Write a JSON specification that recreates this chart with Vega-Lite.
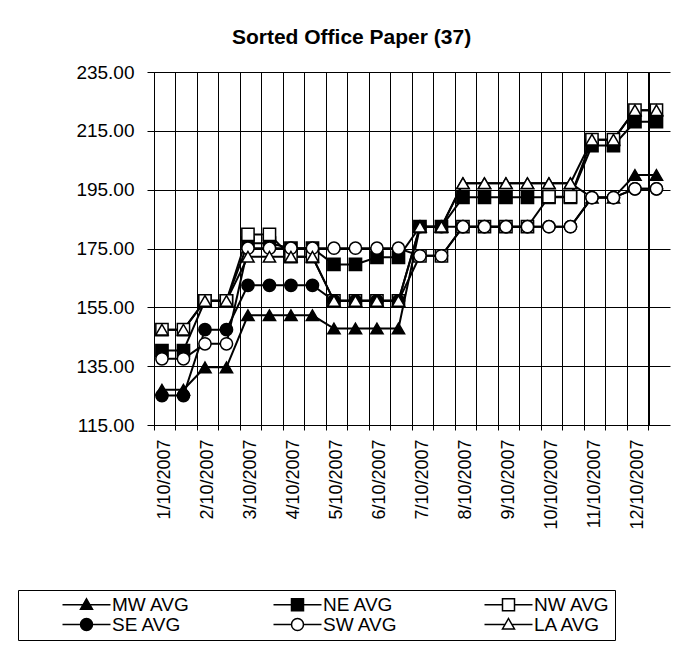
{
  "$schema": "https://vega.github.io/schema/vega-lite/v6.json",
  "width": 495,
  "height": 353,
  "autosize": "none",
  "padding": {"left": 154, "top": 72, "right": 49, "bottom": 241},
  "background": "white",
  "title": {"text": "Sorted Office Paper (37)", "fontSize": 21, "font": "Liberation Sans", "fontWeight": "bold", "color": "black", "anchor": "middle", "frame": "group", "dx": -50, "offset": 15},
  "config": {
    "font": "Liberation Sans",
    "view": {"stroke": "black", "strokeWidth": 1},
    "axis": {"labelColor": "black", "labelFont": "Liberation Sans", "labelFontSize": 18, "gridColor": "black", "gridOpacity": 1, "gridWidth": 1, "tickColor": "black", "domainColor": "black"}
  },
  "data": {"values": [
    {"d":"2007-01-10","s":"MW AVG","v":127.0},{"d":"2007-01-10","s":"NE AVG","v":140.3},{"d":"2007-01-10","s":"NW AVG","v":147.4},{"d":"2007-01-10","s":"SE AVG","v":125.0},{"d":"2007-01-10","s":"SW AVG","v":137.5},{"d":"2007-01-10","s":"LA AVG","v":147.4},
    {"d":"2007-01-25","s":"MW AVG","v":127.0},{"d":"2007-01-25","s":"NE AVG","v":140.3},{"d":"2007-01-25","s":"NW AVG","v":147.4},{"d":"2007-01-25","s":"SE AVG","v":125.0},{"d":"2007-01-25","s":"SW AVG","v":137.5},{"d":"2007-01-25","s":"LA AVG","v":147.4},
    {"d":"2007-02-10","s":"MW AVG","v":134.6},{"d":"2007-02-10","s":"NE AVG","v":157.2},{"d":"2007-02-10","s":"NW AVG","v":157.2},{"d":"2007-02-10","s":"SE AVG","v":147.4},{"d":"2007-02-10","s":"SW AVG","v":142.6},{"d":"2007-02-10","s":"LA AVG","v":157.2},
    {"d":"2007-02-25","s":"MW AVG","v":134.6},{"d":"2007-02-25","s":"NE AVG","v":157.2},{"d":"2007-02-25","s":"NW AVG","v":157.2},{"d":"2007-02-25","s":"SE AVG","v":147.4},{"d":"2007-02-25","s":"SW AVG","v":142.6},{"d":"2007-02-25","s":"LA AVG","v":157.2},
    {"d":"2007-03-10","s":"MW AVG","v":152.3},{"d":"2007-03-10","s":"NE AVG","v":176.8},{"d":"2007-03-10","s":"NW AVG","v":179.8},{"d":"2007-03-10","s":"SE AVG","v":162.5},{"d":"2007-03-10","s":"SW AVG","v":175.1},{"d":"2007-03-10","s":"LA AVG","v":172.2},
    {"d":"2007-03-25","s":"MW AVG","v":152.3},{"d":"2007-03-25","s":"NE AVG","v":176.8},{"d":"2007-03-25","s":"NW AVG","v":179.8},{"d":"2007-03-25","s":"SE AVG","v":162.5},{"d":"2007-03-25","s":"SW AVG","v":175.1},{"d":"2007-03-25","s":"LA AVG","v":172.2},
    {"d":"2007-04-10","s":"MW AVG","v":152.3},{"d":"2007-04-10","s":"NE AVG","v":175.1},{"d":"2007-04-10","s":"NW AVG","v":172.2},{"d":"2007-04-10","s":"SE AVG","v":162.5},{"d":"2007-04-10","s":"SW AVG","v":175.1},{"d":"2007-04-10","s":"LA AVG","v":172.2},
    {"d":"2007-04-25","s":"MW AVG","v":152.3},{"d":"2007-04-25","s":"NE AVG","v":175.1},{"d":"2007-04-25","s":"NW AVG","v":172.2},{"d":"2007-04-25","s":"SE AVG","v":162.5},{"d":"2007-04-25","s":"SW AVG","v":175.1},{"d":"2007-04-25","s":"LA AVG","v":172.2},
    {"d":"2007-05-10","s":"MW AVG","v":147.8},{"d":"2007-05-10","s":"NE AVG","v":169.6},{"d":"2007-05-10","s":"NW AVG","v":157.2},{"d":"2007-05-10","s":"SE AVG","v":157.2},{"d":"2007-05-10","s":"SW AVG","v":175.1},{"d":"2007-05-10","s":"LA AVG","v":157.2},
    {"d":"2007-05-25","s":"MW AVG","v":147.8},{"d":"2007-05-25","s":"NE AVG","v":169.6},{"d":"2007-05-25","s":"NW AVG","v":157.2},{"d":"2007-05-25","s":"SE AVG","v":157.2},{"d":"2007-05-25","s":"SW AVG","v":175.1},{"d":"2007-05-25","s":"LA AVG","v":157.2},
    {"d":"2007-06-10","s":"MW AVG","v":147.8},{"d":"2007-06-10","s":"NE AVG","v":172.0},{"d":"2007-06-10","s":"NW AVG","v":157.2},{"d":"2007-06-10","s":"SE AVG","v":157.2},{"d":"2007-06-10","s":"SW AVG","v":175.1},{"d":"2007-06-10","s":"LA AVG","v":157.2},
    {"d":"2007-06-25","s":"MW AVG","v":147.8},{"d":"2007-06-25","s":"NE AVG","v":172.0},{"d":"2007-06-25","s":"NW AVG","v":157.2},{"d":"2007-06-25","s":"SE AVG","v":157.2},{"d":"2007-06-25","s":"SW AVG","v":175.1},{"d":"2007-06-25","s":"LA AVG","v":157.2},
    {"d":"2007-07-10","s":"MW AVG","v":182.4},{"d":"2007-07-10","s":"NE AVG","v":182.4},{"d":"2007-07-10","s":"NW AVG","v":172.5},{"d":"2007-07-10","s":"SE AVG","v":182.4},{"d":"2007-07-10","s":"SW AVG","v":172.5},{"d":"2007-07-10","s":"LA AVG","v":182.4},
    {"d":"2007-07-25","s":"MW AVG","v":182.4},{"d":"2007-07-25","s":"NE AVG","v":182.4},{"d":"2007-07-25","s":"NW AVG","v":172.5},{"d":"2007-07-25","s":"SE AVG","v":182.4},{"d":"2007-07-25","s":"SW AVG","v":172.5},{"d":"2007-07-25","s":"LA AVG","v":182.4},
    {"d":"2007-08-10","s":"MW AVG","v":197.2},{"d":"2007-08-10","s":"NE AVG","v":192.4},{"d":"2007-08-10","s":"NW AVG","v":182.4},{"d":"2007-08-10","s":"SE AVG","v":182.4},{"d":"2007-08-10","s":"SW AVG","v":182.4},{"d":"2007-08-10","s":"LA AVG","v":197.2},
    {"d":"2007-08-25","s":"MW AVG","v":197.2},{"d":"2007-08-25","s":"NE AVG","v":192.4},{"d":"2007-08-25","s":"NW AVG","v":182.4},{"d":"2007-08-25","s":"SE AVG","v":182.4},{"d":"2007-08-25","s":"SW AVG","v":182.4},{"d":"2007-08-25","s":"LA AVG","v":197.2},
    {"d":"2007-09-10","s":"MW AVG","v":197.2},{"d":"2007-09-10","s":"NE AVG","v":192.4},{"d":"2007-09-10","s":"NW AVG","v":182.4},{"d":"2007-09-10","s":"SE AVG","v":182.4},{"d":"2007-09-10","s":"SW AVG","v":182.4},{"d":"2007-09-10","s":"LA AVG","v":197.2},
    {"d":"2007-09-25","s":"MW AVG","v":197.2},{"d":"2007-09-25","s":"NE AVG","v":192.4},{"d":"2007-09-25","s":"NW AVG","v":182.4},{"d":"2007-09-25","s":"SE AVG","v":182.4},{"d":"2007-09-25","s":"SW AVG","v":182.4},{"d":"2007-09-25","s":"LA AVG","v":197.2},
    {"d":"2007-10-10","s":"MW AVG","v":197.2},{"d":"2007-10-10","s":"NE AVG","v":192.4},{"d":"2007-10-10","s":"NW AVG","v":192.6},{"d":"2007-10-10","s":"SE AVG","v":182.4},{"d":"2007-10-10","s":"SW AVG","v":182.4},{"d":"2007-10-10","s":"LA AVG","v":197.2},
    {"d":"2007-10-25","s":"MW AVG","v":197.2},{"d":"2007-10-25","s":"NE AVG","v":192.4},{"d":"2007-10-25","s":"NW AVG","v":192.6},{"d":"2007-10-25","s":"SE AVG","v":182.4},{"d":"2007-10-25","s":"SW AVG","v":182.4},{"d":"2007-10-25","s":"LA AVG","v":197.2},
    {"d":"2007-11-10","s":"MW AVG","v":192.3},{"d":"2007-11-10","s":"NE AVG","v":210.0},{"d":"2007-11-10","s":"NW AVG","v":212.0},{"d":"2007-11-10","s":"SE AVG","v":192.3},{"d":"2007-11-10","s":"SW AVG","v":192.3},{"d":"2007-11-10","s":"LA AVG","v":212.0},
    {"d":"2007-11-25","s":"MW AVG","v":192.3},{"d":"2007-11-25","s":"NE AVG","v":210.0},{"d":"2007-11-25","s":"NW AVG","v":212.0},{"d":"2007-11-25","s":"SE AVG","v":192.3},{"d":"2007-11-25","s":"SW AVG","v":192.3},{"d":"2007-11-25","s":"LA AVG","v":212.0},
    {"d":"2007-12-10","s":"MW AVG","v":200.0},{"d":"2007-12-10","s":"NE AVG","v":218.1},{"d":"2007-12-10","s":"NW AVG","v":222.0},{"d":"2007-12-10","s":"SE AVG","v":195.3},{"d":"2007-12-10","s":"SW AVG","v":195.3},{"d":"2007-12-10","s":"LA AVG","v":222.0},
    {"d":"2007-12-25","s":"MW AVG","v":200.0},{"d":"2007-12-25","s":"NE AVG","v":218.1},{"d":"2007-12-25","s":"NW AVG","v":222.0},{"d":"2007-12-25","s":"SE AVG","v":195.3},{"d":"2007-12-25","s":"SW AVG","v":195.3},{"d":"2007-12-25","s":"LA AVG","v":222.0}
  ]},
  "encoding": {
    "x": {"field": "d", "type": "ordinal", "bandPosition": 0.37,
      "scale": {"type": "band", "paddingInner": 0, "paddingOuter": 0, "range": [0, 516]},
      "axis": {"title": null, "bandPosition": 0, "grid": true, "domain": false, "tickSize": 5, "labelAngle": 270, "labelPadding": 9, "labelOverlap": false,
        "labelExpr": "slice(datum.value, 8) == '10' ? (toNumber(slice(datum.value, 5, 7)) + '/10/2007') : ''"}},
    "y": {"field": "v", "type": "quantitative",
      "scale": {"domain": [115, 235], "nice": false, "zero": false},
      "axis": {"title": null, "values": [115, 135, 155, 175, 195, 215, 235], "format": ".2f", "grid": true, "tickSize": 7, "labelPadding": 13, "labelFontSize": 19}}
  },
  "layer": [
    {"mark": {"type": "line", "color": "black", "strokeWidth": 2},
     "encoding": {"detail": {"field": "s"}}},
    {"mark": {"type": "point", "filled": true, "stroke": "black", "strokeWidth": 1.5, "size": 150, "opacity": 1},
     "encoding": {
       "shape": {"field": "s", "type": "nominal", "legend": null,
         "scale": {"domain": ["LA AVG", "MW AVG", "NE AVG", "NW AVG", "SE AVG", "SW AVG"], "range": ["triangle-up", "triangle-up", "square", "square", "circle", "circle"]}},
       "fill": {"field": "s", "type": "nominal",
         "scale": {"domain": ["MW AVG", "NE AVG", "NW AVG", "SE AVG", "SW AVG", "LA AVG"], "range": ["black", "black", "white", "black", "white", "white"]},
         "legend": {"orient": "none", "legendX": -136, "legendY": 518, "columns": 3, "direction": "horizontal", "gridAlign": "all",
           "title": " ", "titleOrient": "left", "titlePadding": 54, "titleFontSize": 19,
           "labelFontSize": 19, "labelFont": "Liberation Sans", "labelColor": "black", "symbolSize": 144,
           "symbolType": {"expr": "datum.value === 'MW AVG' ? 'M-4,0H4M0,-1L1,0.75L-1,0.75Z' : datum.value === 'NE AVG' ? 'M-4,0H4M-1,-1H1V1H-1Z' : datum.value === 'NW AVG' ? 'M-4,0H-1M1,0H4M-1,-1H1V1H-1Z' : datum.value === 'SE AVG' ? 'M-4,0H4M-1,0A1,1,0,1,0,1,0A1,1,0,1,0,-1,0Z' : datum.value === 'SW AVG' ? 'M-4,0H-1M1,0H4M-1,0A1,1,0,1,0,1,0A1,1,0,1,0,-1,0Z' : 'M-4,0H-0.57M0.57,0H4M0,-1L1,0.75L-1,0.75Z'"},
           "labelOffset": 16, "columnPadding": 80, "rowPadding": -6, "padding": 5, "strokeColor": "black", "fillColor": "white",
           "encode": {"symbols": {
             "stroke": {"value": "black"},
             "strokeWidth": {"value": 1.5},
             "opacity": {"value": 1}}}}}
     }}
  ]
}
